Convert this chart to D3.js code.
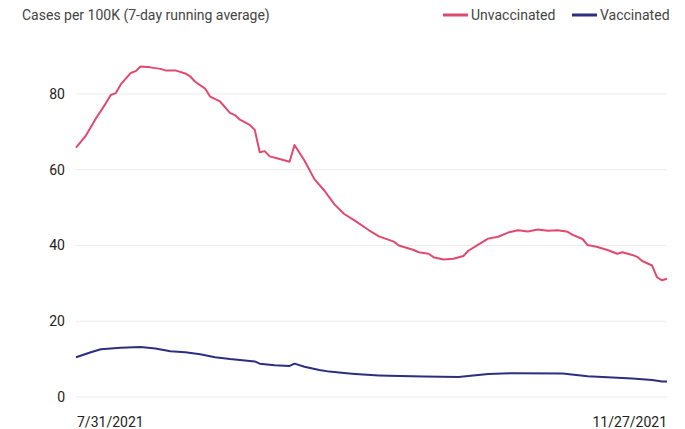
<!DOCTYPE html>
<html>
<head>
<meta charset="utf-8">
<script src="https://cdn.jsdelivr.net/npm/d3@7"></script>
<style>
  body { margin: 0; background: #fff; }
  svg text { font-family: Roboto, "Noto Sans", sans-serif; }
</style>
</head>
<body>
<div id="chart"></div>
<script>
// days after 7/31/2021
const unvacDays = [0, 2, 4, 6, 7, 8, 9, 11, 12, 13, 15, 17, 18, 20, 22, 23, 24, 26, 27, 29,
  31, 32, 33, 35, 36, 37, 38, 39, 41, 43, 44, 46, 48, 50, 52, 54, 56, 59, 61, 64,
  65, 68, 69, 71, 72, 74, 76, 78, 79, 81, 83, 85, 87, 89, 91, 93, 95, 97, 99, 100,
  102, 103, 105, 107, 109, 110, 112, 113, 114, 116, 117, 118, 119];
const unvacCases = [65.8, 69.0, 73.5, 77.5, 79.7, 80.2, 82.5, 85.5, 86.0, 87.2, 87.0, 86.6, 86.2, 86.2, 85.4, 84.6, 83.2, 81.4, 79.3, 78.0,
  75.0, 74.4, 73.2, 71.8, 70.5, 64.6, 64.9, 63.5, 62.8, 62.1, 66.5, 62.4, 57.5, 54.5, 50.9, 48.3, 46.7, 44.0, 42.4, 41.0,
  40.0, 38.8, 38.2, 37.8, 36.9, 36.3, 36.5, 37.2, 38.6, 40.2, 41.8, 42.3, 43.4, 44.0, 43.7, 44.2, 43.9, 44.0, 43.6, 42.8,
  41.7, 40.1, 39.6, 38.8, 37.8, 38.2, 37.5, 37.0, 35.9, 34.7, 31.6, 30.8, 31.2];

const vacDays = [0, 3, 5, 9, 13, 16, 19, 22, 25, 28, 31, 36, 37, 40, 43, 44, 46, 49, 51, 55,
  57, 61, 63, 70, 77, 83, 88, 98, 103, 112, 116, 118, 119];
const vacCases = [10.5, 11.8, 12.6, 13.0, 13.2, 12.8, 12.1, 11.8, 11.3, 10.5, 10.0, 9.4, 8.8, 8.4, 8.2, 8.8, 8.0, 7.1, 6.7, 6.2,
  6.0, 5.7, 5.6, 5.4, 5.3, 6.1, 6.3, 6.2, 5.5, 4.9, 4.5, 4.1, 4.1];

const yTicks = [0, 20, 40, 60, 80];
const xLabels = ["7/31/2021", "11/27/2021"];
const seriesNames = ["Unvaccinated", "Vaccinated"];
const colors = ["#e14a6e", "#2c2f7f"];

const W = 685, H = 429;
const start = new Date(2021, 6, 31), end = new Date(2021, 10, 27);

const svg = d3.select("#chart").append("svg")
  .attr("width", W)
  .attr("height", H);

const x = d3.scaleTime().domain([start, end]).range([76, 667]);
const y = d3.scaleLinear().domain([0, 90]).range([397, 56]);

// grid + y labels
const grid = svg.append("g");
grid.selectAll("line")
  .data(yTicks)
  .enter().append("line")
  .attr("x1", 76).attr("x2", 667)
  .attr("y1", d => y(d)).attr("y2", d => y(d))
  .attr("stroke", "#ececec")
  .attr("stroke-width", 1);

grid.selectAll("text")
  .data(yTicks)
  .enter().append("text")
  .attr("x", 65)
  .attr("y", d => y(d))
  .attr("dy", "0.35em")
  .attr("text-anchor", "end")
  .attr("font-size", 14)
  .attr("fill", "#222")
  .text(d => d);

// x labels, only first and last date
svg.append("text")
  .attr("x", x(start) + 1).attr("y", 427)
  .attr("font-size", 14).attr("fill", "#222")
  .text(xLabels[0]);
svg.append("text")
  .attr("x", x(end)).attr("y", 427)
  .attr("text-anchor", "end")
  .attr("font-size", 14).attr("fill", "#222")
  .text(xLabels[1]);

const line = d3.line()
  .x(d => x(d3.timeDay.offset(start, d[0])))
  .y(d => y(d[1]));

const series = [
  d3.zip(unvacDays, unvacCases),
  d3.zip(vacDays, vacCases)
];

svg.append("g").selectAll("path")
  .data(series)
  .enter().append("path")
  .attr("fill", "none")
  .attr("stroke", (d, i) => colors[i])
  .attr("stroke-width", 2)
  .attr("stroke-linejoin", "round")
  .attr("d", line);

// title
svg.append("text")
  .attr("x", 22).attr("y", 20)
  .attr("font-size", 14).attr("fill", "#444")
  .text("Cases per 100K (7-day running average)");

// legend
const legX = [443, 572];
const leg = svg.append("g").selectAll("g")
  .data(seriesNames)
  .enter().append("g")
  .attr("transform", (d, i) => `translate(${legX[i]},15)`);

leg.append("line")
  .attr("x1", 0).attr("x2", 25)
  .attr("stroke", (d, i) => colors[i])
  .attr("stroke-width", 3);

leg.append("text")
  .attr("x", 28)
  .attr("dy", "0.35em")
  .attr("font-size", 14).attr("fill", "#444")
  .text(d => d);
</script>
</body>
</html>
